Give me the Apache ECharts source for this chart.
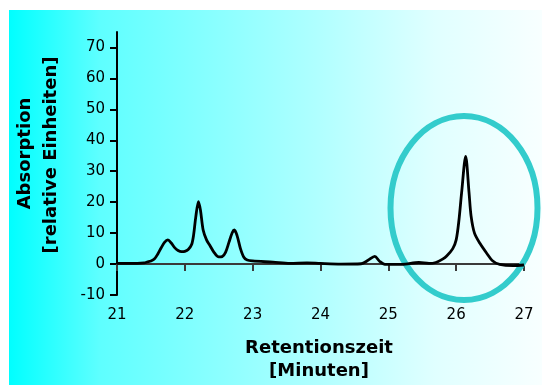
<!DOCTYPE html>
<html>
<head>
<meta charset="utf-8">
<script src="https://cdn.jsdelivr.net/npm/echarts@6/dist/echarts.min.js"></script>
<style>html,body{margin:0;padding:0;background:#fff}#c{width:542px;height:385px}</style>
</head>
<body>
<div id="c"></div>
<script>
var times = [21.0,21.2,21.4,21.45,21.5,21.55,21.6,21.65,21.7,21.75,21.8,21.85,21.9,21.95,22.0,22.05,22.1,22.13,22.16,22.2,22.23,22.27,22.32,22.37,22.43,22.5,22.55,22.6,22.65,22.7,22.73,22.77,22.82,22.87,22.92,23.0,23.3,23.55,23.8,24.0,24.3,24.6,24.7,24.8,24.87,24.95,25.2,25.45,25.6,25.7,25.8,25.86,25.95,26.0,26.04,26.08,26.14,26.19,26.22,26.27,26.35,26.45,26.54,26.64,26.84,27.0];
var absorption = [0.2,0.2,0.4,0.7,1.0,1.6,3.2,5.2,7.0,7.8,6.8,5.3,4.4,4.0,4.1,4.7,6.3,9.5,15,20.2,17.5,11,7.8,6.0,3.8,2.3,2.4,3.8,7.0,10.2,11.0,9.2,5.0,2.2,1.3,1.0,0.6,0.2,0.4,0.2,0.0,0.1,1.2,2.5,0.9,-0.1,-0.1,0.5,0.2,0.5,1.6,2.6,5.0,7.8,14,23,34.8,23,15.5,10,6.7,3.5,1.0,-0.1,-0.5,-0.3];
var yTicks = [-10,0,10,20,30,40,50,60,70];
var xTitle = ['Retentionszeit','[Minuten]'];
var yTitle = ['Absorption','[relative Einheiten]'];

var chart = echarts.init(document.getElementById('c'));
var pts = times.map(function(t,i){return [t, absorption[i]];});
var titleFont = 'bold 18px "DejaVu Sans"';
chart.setOption({
  backgroundColor: '#ffffff',
  animation: false,
  grid: {left: 117, right: 18, top: 32, bottom: 90, containLabel: false},
  xAxis: {
    type: 'value', min: 21, max: 27, interval: 1,
    axisLine: {lineStyle: {color: '#3a3a3a', width: 2}},
    axisTick: {length: 7, lineStyle: {color: '#3a3a3a', width: 2}},
    axisLabel: {color: '#000', fontSize: 15, fontFamily: 'DejaVu Sans', margin: 13},
    splitLine: {show: false}
  },
  yAxis: {
    type: 'value', min: -10, max: 75, interval: 10,
    axisLine: {show: true, lineStyle: {color: '#000', width: 2}},
    axisTick: {show: true, length: 7, customValues: yTicks, lineStyle: {color: '#000', width: 2}},
    axisLabel: {color: '#000', fontSize: 15, fontFamily: 'DejaVu Sans', margin: 12, customValues: yTicks},
    splitLine: {show: false}
  },
  graphic: [
    {type: 'rect', z: -10, silent: true, shape: {x: 9, y: 10, width: 533, height: 375},
     style: {fill: {type: 'linear', x: 0, y: 0, x2: 1, y2: 0, colorStops: [
       {offset: 0, color: '#00ffff'}, {offset: 0.17, color: '#5effff'}, {offset: 0.58, color: '#b0ffff'},
       {offset: 0.8, color: '#e0ffff'}, {offset: 1, color: '#f8ffff'}]}}},
    {type: 'ellipse', z: 5, silent: true, shape: {cx: 464, cy: 208, rx: 73.5, ry: 92},
     style: {fill: 'none', stroke: '#33cccc', lineWidth: 6}},
    {type: 'text', z: 10, x: 319, y: 348, style: {text: xTitle[0], font: titleFont, fill: '#000', textAlign: 'center', textVerticalAlign: 'middle'}},
    {type: 'text', z: 10, x: 319, y: 371, style: {text: xTitle[1], font: titleFont, fill: '#000', textAlign: 'center', textVerticalAlign: 'middle'}},
    {type: 'text', z: 10, x: 25, y: 153.5, rotation: Math.PI/2, style: {text: yTitle[0], font: titleFont, fill: '#000', textAlign: 'center', textVerticalAlign: 'middle'}},
    {type: 'text', z: 10, x: 51, y: 155, rotation: Math.PI/2, style: {text: yTitle[1], font: titleFont, fill: '#000', textAlign: 'center', textVerticalAlign: 'middle'}}
  ],
  series: [{
    type: 'line', data: pts, smooth: 0.3, showSymbol: false, z: 6,
    lineStyle: {color: '#000', width: 2.8}
  }]
});
</script>
</body>
</html>
